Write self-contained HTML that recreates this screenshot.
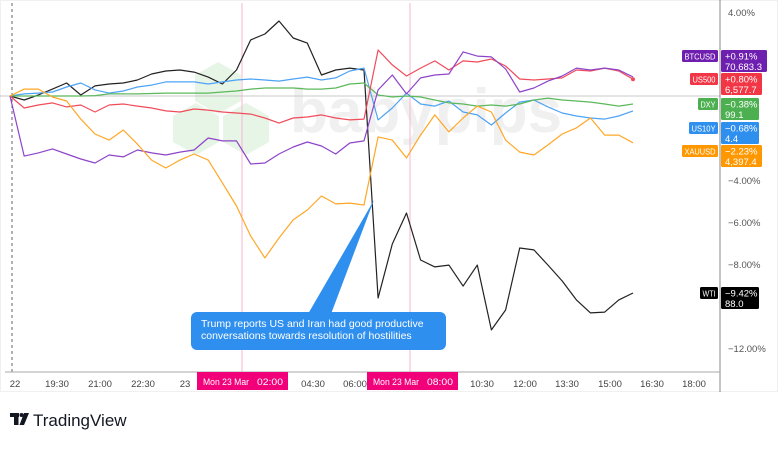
<!DOCTYPE html>
<html><head><meta charset="utf-8"><style>
html,body{margin:0;padding:0;background:#fff;}
body{width:780px;height:445px;overflow:hidden;font-family:"Liberation Sans",sans-serif;}
</style></head><body>
<svg id="chart" width="780" height="445" viewBox="0 0 780 445" xmlns="http://www.w3.org/2000/svg" font-family="Liberation Sans, sans-serif">
  <rect x="0.5" y="0.5" width="777" height="391" fill="#fff" stroke="#f0f0f0"/>
  <g opacity="0.5">
    <polygon points="218,62 241,75 241,101 218,114 195,101 195,75" fill="#cfeccc"/>
    <polygon points="196,103 219,116 219,142 196,155 173,142 173,116" fill="#cfeccc"/>
    <polygon points="246,103 269,116 269,142 246,155 223,142 223,116" fill="#cfeccc"/>
    <text x="290" y="132" font-size="62" font-weight="bold" fill="#e2e2e2">babypips</text>
  </g>
  <g id="grid"></g>
  <g id="series"></g>
  <g>
    <polygon points="308,314 331,314 374,200" fill="#2f8fee"/>
    <rect x="191" y="312" width="255" height="38" rx="6" fill="#2f8fee"/>
    <text x="201" y="327" font-size="10.5" fill="#fff">Trump reports US and Iran had good productive</text>
    <text x="201" y="339" font-size="10.5" fill="#fff">conversations towards resolution of hostilities</text>
  </g>
  <g id="yaxis"></g>
  <g id="xaxis"></g>
  <g id="tags"></g>
  <g>
    <rect x="10" y="413" width="9" height="4" fill="#131722"/>
    <rect x="14" y="413" width="4.5" height="12" fill="#131722"/>
    <circle cx="21.5" cy="415" r="2" fill="#131722"/>
    <polygon points="24,413 29,413 24,425 19.5,425" fill="#131722"/>
    <text x="33" y="426" font-size="17" fill="#131722">TradingView</text>
  </g>
</svg>
<script>
const xLabels=["22","19:30","21:00","22:30","23","04:30","06:00","10:30","12:00","13:30","15:00","16:30","18:00"];
const xLabelPos=[15,57,100,143,185,313,355,482,525,567,610,652,694];
const yTicks=[4,-4,-6,-8,-12];
const series=["BTCUSD","US500","DXY","US10Y","XAUUSD","WTI"];
const wti=[0,-0.19,0.05,0.33,0.62,0.05,0.48,0.57,0.62,0.76,1.05,1.19,1.24,1.14,0.9,0.57,1.24,2.67,2.95,3.57,2.76,2.52,1.0,1.24,1.33,1.24,-9.62,-7.05,-5.57,-7.81,-8.14,-8.05,-9.05,-8.05,-11.14,-10.19,-7.24,-7.33,-8.05,-8.81,-9.71,-10.33,-10.29,-9.71,-9.38];
const us10y=[0,0.1,0.14,0.19,0.43,0.62,0.29,0.14,0.24,0.43,0.52,0.67,0.67,0.67,0.57,0.67,0.76,0.81,0.76,0.71,0.81,0.9,0.76,0.86,1.19,1.33,-1.14,-0.57,0.14,-0.38,-0.48,-0.24,-0.76,-0.9,-1.38,-0.81,-0.29,-0.19,-0.52,-0.81,-0.95,-1.05,-1.1,-0.95,-0.71];
const dxy=[0,0,0,0,0,0,0.02,0.1,0.1,0.1,0.12,0.14,0.14,0.14,0.14,0.19,0.24,0.33,0.38,0.38,0.38,0.33,0.33,0.38,0.57,0.62,0.05,-0.05,0,-0.05,-0.19,-0.33,-0.38,-0.48,-0.43,-0.48,-0.38,-0.19,-0.1,-0.19,-0.24,-0.29,-0.38,-0.48,-0.38];
const us500=[0,-0.57,-0.43,-0.33,-0.52,-0.43,-0.76,-0.43,-0.38,-0.48,-0.57,-0.71,-0.76,-0.62,-0.67,-0.76,-0.81,-0.86,-1.05,-1.29,-1.05,-1.0,-0.9,-1.05,-1.14,-1.1,2.19,1.48,0.95,1.33,1.67,1.24,1.67,1.62,1.76,1.43,0.81,0.76,0.81,0.86,1.24,1.19,1.33,1.19,0.8];
const btc=[0,-2.86,-2.71,-2.52,-2.76,-3.0,-3.19,-2.81,-2.9,-2.57,-2.71,-2.81,-2.67,-2.57,-2.0,-2.14,-2.14,-3.24,-3.19,-2.76,-2.43,-2.19,-2.38,-2.76,-2.24,-2.14,0.29,1.0,0.1,0.86,1.0,1.05,2.1,1.9,1.86,1.29,0.19,0.38,0.71,0.95,1.33,1.24,1.33,1.24,0.91];
const xau=[0,0.33,0.33,-0.05,-0.24,-1.1,-1.81,-2.1,-1.62,-2.29,-3.05,-3.43,-3.05,-2.76,-3.05,-4.14,-5.24,-6.67,-7.71,-6.76,-5.9,-5.43,-4.76,-5.14,-5.1,-5.19,-1.95,-2.1,-2.95,-1.86,-0.9,-1.71,-1.05,-0.48,-0.76,-2.1,-2.67,-2.81,-2.33,-1.81,-1.52,-1.05,-1.86,-1.86,-2.23];
const tagPct=["+0.91%","+0.80%","\u22120.38%","\u22120.68%","\u22122.23%","\u22129.42%"];
const tagVal=["70,683.3","6,577.7","99.1","4.4","4,397.4","88.0"];

const NS="http://www.w3.org/2000/svg";
const N=45;
function xs(i){return 10+i*(623/(N-1));}
function ys(v){return 96-v*21;}
function mk(tag,attrs,parent,text){const e=document.createElementNS(NS,tag);for(const k in attrs)e.setAttribute(k,attrs[k]);if(text!==undefined)e.textContent=text;parent.appendChild(e);return e;}

const grid=document.getElementById('grid');
let l;
l=mk('line',{x1:12,y1:3,x2:12,y2:372,stroke:'#666','stroke-dasharray':'3,3','stroke-width':1},grid);


l=mk('line',{x1:0,y1:ys(0),x2:720,y2:ys(0),stroke:'#c8c8c8','stroke-width':1},grid);


[242,410].forEach((x)=>{
  const m=mk('line',{x1:x,y1:3,x2:x,y2:372,stroke:'#f7b6d2','stroke-width':1},grid);
  
  
});

const sg=document.getElementById('series');
const defs=[["wti",wti,"#222"],["us10y",us10y,"#4da3f5"],["dxy",dxy,"#5cb85c"],["us500",us500,"#f04c5a"],["btc",btc,"#8e44c9"],["xau",xau,"#ffa726"]];
defs.forEach(d=>{
  const pts=d[1].map((v,i)=>xs(i).toFixed(1)+','+ys(v).toFixed(1)).join(' ');
  const p=mk('polyline',{points:pts,fill:'none',stroke:d[2],'stroke-width':1.2,'stroke-linejoin':'round'},sg);
  
  
});
const dot=mk('circle',{cx:xs(N-1),cy:ys(us500[N-1]),r:2,fill:'#f04c5a'},sg);



const ya=document.getElementById('yaxis');
l=mk('line',{x1:720,y1:0,x2:720,y2:392,stroke:'#888','stroke-width':1},ya);


yTicks.forEach(t=>{
  const s=(t<0?'\u2212':'')+Math.abs(t).toFixed(2)+'%';
  const tx=mk('text',{x:728,y:ys(t)+4,'font-size':9.5,fill:'#555'},ya,s);
  
  
});

const xa=document.getElementById('xaxis');
l=mk('line',{x1:5,y1:372,x2:720,y2:372,stroke:'#aaa','stroke-width':1},xa);


xLabels.forEach((s,i)=>{
  const tx=mk('text',{x:xLabelPos[i],y:387,'font-size':9.5,fill:'#444','text-anchor':'middle'},xa,s);
  
  
});
[[242,"02:00"],[412,"08:00"]].forEach(m=>{
  const g=mk('g',{},xa);
  
  
  mk('rect',{x:m[0]-45,y:372,width:91,height:18,fill:'#f2007a'},g);
  mk('text',{x:m[0]-39,y:385,'font-size':9,fill:'#fff',textLength:46,lengthAdjust:'spacingAndGlyphs'},g,'Mon 23 Mar');
  mk('text',{x:m[0]+15,y:385,'font-size':9,fill:'#fff',textLength:26,lengthAdjust:'spacingAndGlyphs'},g,m[1]);
});

const tg=document.getElementById('tags');
const tagColors=["#6f1fb0","#f23645","#4caf50","#2f8fee","#ff9800","#000"];
const tagY=[50,73,98,122,145,287];
const tagNW=[36,28,20,29,36,18];
const tagBW=[46,41,38,38,41,38];
series.forEach((s,i)=>{
  const g=mk('g',{},tg);
  
  
  const y=tagY[i];
  mk('rect',{x:718-tagNW[i],y:y,width:tagNW[i],height:12,rx:1.5,fill:tagColors[i]},g);
  mk('text',{x:718-tagNW[i]+2.5,y:y+9.3,'font-size':8.5,fill:'#fff',textLength:tagNW[i]-5,lengthAdjust:'spacingAndGlyphs'},g,s);
  mk('rect',{x:721,y:y,width:tagBW[i],height:22,rx:1.5,fill:tagColors[i]},g);
  mk('text',{x:725,y:y+9.5,'font-size':9.5,fill:'#fff'},g,tagPct[i]);
  mk('text',{x:725,y:y+20,'font-size':9.5,fill:'#fff'},g,tagVal[i]);
});
</script>
</body></html>
